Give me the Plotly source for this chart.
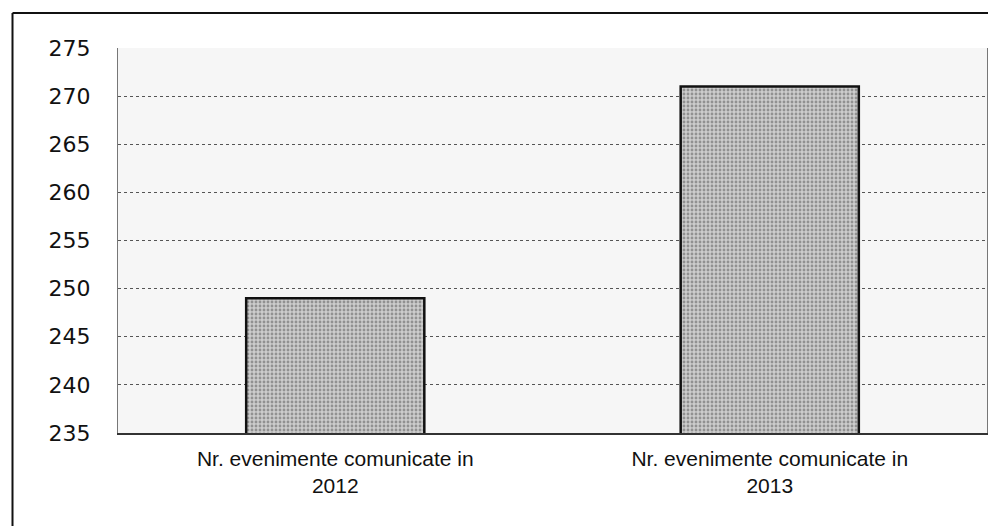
import plotly.graph_objects as go

categories = ["Nr. evenimente comunicate in<br>2012", "Nr. evenimente comunicate in<br>2013"]
values = [249, 271]
y_ticks = [235, 240, 245, 250, 255, 260, 265, 270, 275]

fig = go.Figure()
fig.add_trace(go.Bar(
    x=categories, y=values,
    marker=dict(
        color="#c4c4c4",
        line=dict(color="#111111", width=2.5),
        pattern=dict(shape=".", fgcolor="#555555", bgcolor="#cccccc", size=4, solidity=0.4),
    ),
))

# the page body adds ~8px offset; margins compensate so the plot sits where the reference has it
fig.update_layout(
    width=996, height=526,
    margin=dict(l=110, r=17, t=40, b=101),
    paper_bgcolor="white", plot_bgcolor="#f6f6f6",
    bargap=0.59, showlegend=False,
    font=dict(family="Liberation Sans, Arial, sans-serif", color="#111111"),
    xaxis=dict(showgrid=False, showline=True, linecolor="#333333", linewidth=1.5,
               tickfont=dict(size=21), ticks="", ticklabelstandoff=6,
               automargin=False),
    yaxis=dict(range=[235, 275], tickvals=y_ticks, showgrid=True,
               gridcolor="#555555", griddash="dot", gridwidth=1,
               showline=True, linecolor="#777777", linewidth=1, mirror=True,
               tickfont=dict(size=22, family="DejaVu Sans, sans-serif"), ticks="", ticklabelstandoff=22,
               zeroline=False, automargin=False),
    shapes=[
        dict(type="line", xref="paper", yref="paper", x0=-0.1214, x1=1.03, y0=1.091, y1=1.091,
             line=dict(color="#111111", width=2)),
        dict(type="line", xref="paper", yref="paper", x0=-0.1214, x1=-0.1214, y0=1.091, y1=-0.3,
             line=dict(color="#111111", width=2)),
    ],
)

fig.write_html("out.html")
